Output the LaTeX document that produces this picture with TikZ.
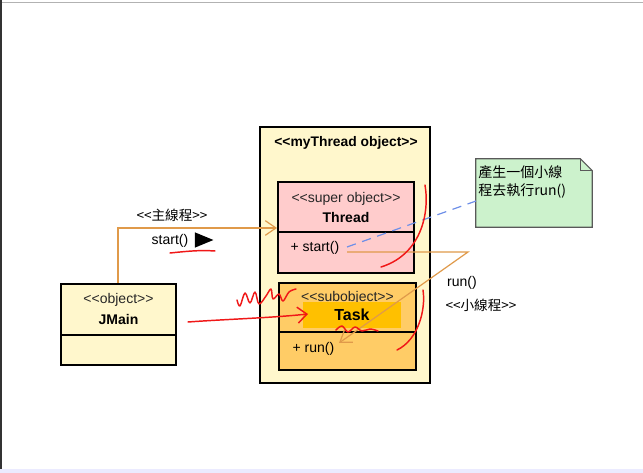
\documentclass[tikz,border=0pt]{standalone}
\usepackage{fontspec}
\setmainfont{Liberation Sans}
\newfontfamily\cjk{Noto Sans CJK TC}
\usetikzlibrary{arrows.meta,shapes.geometric}
\definecolor{objyellow}{HTML}{FFF7CC}
\definecolor{objpink}{HTML}{FFCCCC}
\definecolor{objorange}{HTML}{FFCC66}
\definecolor{objgold}{HTML}{FFC000}
\definecolor{notegreen}{HTML}{CCF2CC}
\definecolor{linkorange}{HTML}{E09A4A}
\definecolor{linkblue}{HTML}{6E8FE8}
\definecolor{penred}{HTML}{F01818}
\newcommand{\stereo}[1]{<{}<#1>{}>}
\tikzset{
  objbox/.style={
    draw,
    line width=1.5pt,
    inner sep=0pt
  },
  objline/.style={line width=1.2pt},
  stereotext/.style={
    font=\fontsize{10.5}{12}\selectfont,
    text=black!85
  },
  nametext/.style={
    font=\bfseries\fontsize{10.5}{12}\selectfont
  },
  membertext/.style={
    font=\fontsize{10.5}{12}\selectfont,
    anchor=west,
    inner sep=1pt
  },
  notetext/.style={
    font=\cjk\fontsize{10.5}{12}\selectfont,
    anchor=west,
    inner sep=0pt
  },
  link/.style={draw=linkorange, line width=0.9pt},
  pen/.style={draw=penred, line width=1.1pt, line cap=round, line join=round}
}

\begin{document}
\begin{tikzpicture}[x=0.75pt,y=-0.75pt]
  \useasboundingbox (0,0) rectangle (643,473);
  \fill[white] (0,0) rectangle (643,473);
  \draw[black!30, line width=0.6pt] (0,2) -- (643,2);
  \draw[black!80, line width=2pt] (1,0) -- (1,473);
  \fill[blue!8] (0,469) rectangle (643,473);

  % outer object
  \node[objbox, fill=objyellow, minimum width=127.5pt, minimum height=192pt] (outer) at (345,255) {};
  \node[nametext, font=\bfseries\fontsize{10.4}{12}\selectfont] (outertitle) at (346,143) {\stereo{myThread object}};

  % super object
  \node[objbox, fill=objpink, minimum width=102pt, minimum height=68.25pt] (thread) at (346,227.5) {};
  \draw[objline] (thread.west |- 0,232) -- (thread.east |- 0,232);
  \node[stereotext] (threadst) at (346,199) {\stereo{super object}};
  \node[nametext] (threadname) at (346,218) {Thread};
  \node[membertext] (startm) at (289,248) {+ start()};

  % sub object
  \node[objbox, fill=objorange, minimum width=102.75pt, minimum height=65.25pt] (task) at (347.5,326.5) {};
  \draw[objline] (task.west |- 0,332) -- (task.east |- 0,332);
  \node[stereotext] (taskst) at (347.5,298) {\stereo{subobject}};
  \fill[objgold] (303,302) rectangle (401,328);
  \node[nametext, font=\bfseries\fontsize{12}{14}\selectfont] (taskname) at (352,315) {Task};
  \node[membertext] (runm) at (291,349) {+ run()};

  % main object
  \node[objbox, fill=objyellow, minimum width=86.25pt, minimum height=60.75pt] (jmain) at (118.5,324.5) {};
  \draw[objline] (jmain.west |- 0,335) -- (jmain.east |- 0,335);
  \node[stereotext] (jmainst) at (118.5,300) {\stereo{object}};
  \node[nametext] (jmainname) at (118.5,320) {JMain};

  % note
  \node[minimum width=87pt, minimum height=51pt, inner sep=0pt] (note) at (534,193) {};
  \draw[fill=notegreen, draw=black!65, line width=0.8pt]
    (note.north west) -- ([xshift=-9pt]note.north east) -- ([yshift=-9pt]note.north east)
    -- (note.south east) -- (note.south west) -- cycle;
  \draw[draw=black!65, line width=0.8pt] ([xshift=-9pt]note.north east) |- ([yshift=-9pt]note.north east);
  \node[notetext] (noteline1) at (478,172) {產生一個小線};
  \node[notetext] (noteline2) at (478,191) {程去執行run()};

  % connectors
  \coordinate (mainbend) at (118,228);
  \coordinate (startout) at (347,247);
  \coordinate (noteleft) at (476,201);
  \coordinate (runturn) at (468,252);
  \coordinate (runin) at (339,343);
  \draw[link, -{Straight Barb[length=8pt,width=11pt]}] (jmain.north -| mainbend) |- (thread.west |- mainbend);
  \draw[linkblue, line width=0.9pt, dash pattern=on 7pt off 5pt] (startout) -- (noteleft);
  \draw[link, -{Straight Barb[length=8pt,width=11pt]}] (startout |- runturn) -- (runturn) -- (runin);

  \node[stereotext, text=black, font=\cjk\fontsize{10.2}{12}\selectfont] (mainlabel) at (172,215) {\stereo{主線程}};
  \node[stereotext, text=black] (startlabel) at (170,241) {start()};
  \node[fill=black, isosceles triangle, inner sep=0pt, minimum width=11.5pt, minimum height=10.5pt] (startdir) at (200,240) {};
  \node[stereotext, text=black] (runlabel) at (462,283) {run()};
  \node[stereotext, text=black, font=\cjk\fontsize{10.2}{12}\selectfont] (sublabel) at (481,305) {\stereo{小線程}};

  % hand marks
  \draw[pen] (170,253) .. controls (190,251) and (200,250) .. (215,251);
  \draw[pen] plot[smooth, tension=0.6] coordinates {(237,300) (240,306) (245,293) (250,303) (255,292) (259,304) (266,296) (271,289) (273,299) (279,294) (283,301) (289,292) (296,289)};
  \draw[pen, -{Straight Barb[length=7pt,width=12pt]}] (188,322) .. controls (230,319) and (270,318) .. (308,314);
  \draw[pen] (425,185) .. controls (430,215) and (420,255) .. (381,267);
  \draw[pen] (423,290) .. controls (426,310) and (418,340) .. (397,350);
  \draw[pen] plot[smooth, tension=0.6] coordinates {(336,330) (342,326) (348,332) (355,327) (362,331) (370,329) (378,331)};
\end{tikzpicture}
\end{document}
